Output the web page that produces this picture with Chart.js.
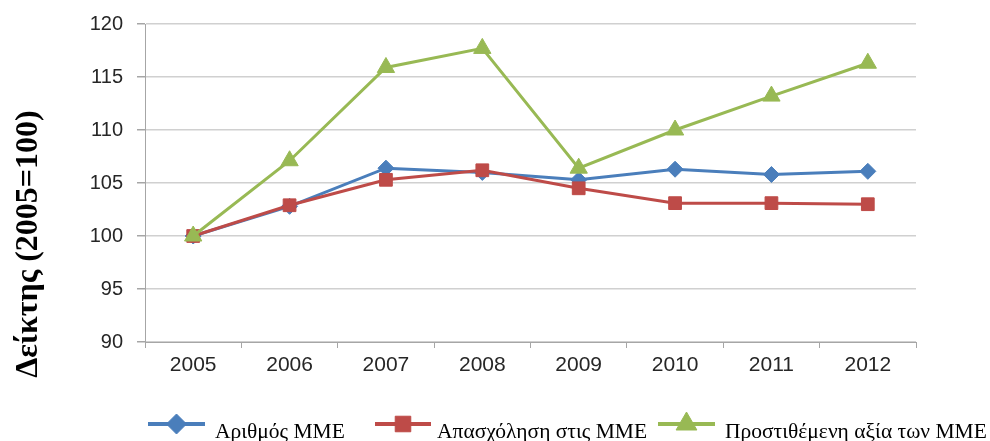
<!DOCTYPE html>
<html>
<head>
<meta charset="utf-8">
<script src="https://cdn.jsdelivr.net/npm/chart.js@4"></script>
<style>
html,body{margin:0;padding:0;background:#fff;}
#wrap{position:relative;width:990px;height:441px;}
</style>
</head>
<body>
<div id="wrap"><canvas id="c" width="990" height="441"></canvas></div>
<script>
const categories = ['2005','2006','2007','2008','2009','2010','2011','2012'];
const seriesNames = ['Αριθμός ΜΜΕ','Απασχόληση στις ΜΜΕ','Προστιθέμενη αξία των ΜΜΕ'];
const numberSME = [100, 102.8, 106.4, 106.0, 105.3, 106.3, 105.8, 106.1];
const employmentSME = [100, 102.9, 105.3, 106.2, 104.5, 103.1, 103.1, 103.0];
const valueAddedSME = [100, 107.1, 115.9, 117.7, 106.4, 110.0, 113.2, 116.3];
const yTicks = [90, 95, 100, 105, 110, 115, 120];
const yTitle = 'Δείκτης (2005=100)';

const colors = ['#4a7ebb', '#be4b48', '#98b954'];
const styles = ['rectRot', 'rect', 'triangle'];
const radii = [8, 9, 10];

const legendPlugin = {
  id: 'customLegend',
  afterDraw(chart) {
    const ctx = chart.ctx;
    ctx.save();
    ctx.translate(29, 244);
    ctx.rotate(-Math.PI / 2);
    ctx.font = 'bold 32px "Liberation Serif"';
    ctx.fillStyle = '#000';
    ctx.textAlign = 'center';
    ctx.textBaseline = 'middle';
    ctx.fillText(yTitle, 0, 0);
    ctx.restore();

    const items = [
      {x1: 148, x2: 205, tx: 215},
      {x1: 375, x2: 431, tx: 437},
      {x1: 658, x2: 715, tx: 725}
    ];
    const ly = 424;
    items.forEach((it, i) => {
      ctx.save();
      ctx.strokeStyle = colors[i];
      ctx.lineWidth = 4;
      ctx.beginPath();
      ctx.moveTo(it.x1, ly);
      ctx.lineTo(it.x2, ly);
      ctx.stroke();
      ctx.fillStyle = colors[i];
      ctx.lineWidth = 1;
      Chart.helpers.drawPoint(ctx, {
        pointStyle: styles[i], radius: radii[i] + 2, borderWidth: 1
      }, (it.x1 + it.x2) / 2, ly);
      ctx.fillStyle = '#000';
      ctx.font = '21.5px "Liberation Serif"';
      ctx.textAlign = 'left';
      ctx.textBaseline = 'alphabetic';
      ctx.fillText(seriesNames[i], it.tx, 438);
      ctx.restore();
    });
  }
};

const dataArrays = [numberSME, employmentSME, valueAddedSME];
new Chart(document.getElementById('c'), {
  type: 'line',
  data: {
    labels: categories,
    datasets: dataArrays.map((d, i) => ({
      label: seriesNames[i],
      data: d,
      borderColor: colors[i],
      backgroundColor: colors[i],
      borderWidth: 3,
      pointStyle: styles[i],
      pointRadius: radii[i],
      pointHoverRadius: radii[i],
      pointBorderWidth: 1,
      tension: 0,
      order: 2 - i
    }))
  },
  options: {
    responsive: false,
    animation: false,
    events: [],
    layout: {padding: {top: 24, right: 74, left: 0, bottom: 0}},
    plugins: {legend: {display: false}, tooltip: {enabled: false}},
    scales: {
      x: {
        offset: true,
        grid: {offset: true, drawOnChartArea: false, tickLength: 6, color: '#a6a6a6', lineWidth: 1},
        border: {color: '#a6a6a6', width: 1},
        ticks: {font: {family: '"Liberation Sans"', size: 21}, color: '#262626', padding: 5},
        afterFit(s) { s.height = 99; s.paddingTop = 0; s.paddingBottom = 0; }
      },
      y: {
        min: 90, max: 120,
        afterBuildTicks(s) { s.ticks = yTicks.map(v => ({value: v})); },
        grid: {color: '#d0d0d0', lineWidth: 1.5, tickLength: 8, tickColor: '#a6a6a6'},
        border: {color: '#a6a6a6', width: 1},
        ticks: {font: {family: '"Liberation Sans"', size: 20}, color: '#262626', padding: 14},
        afterFit(s) { s.width = 145; s.paddingTop = 0; s.paddingBottom = 0; }
      }
    }
  },
  plugins: [legendPlugin]
});
</script>
</body>
</html>
